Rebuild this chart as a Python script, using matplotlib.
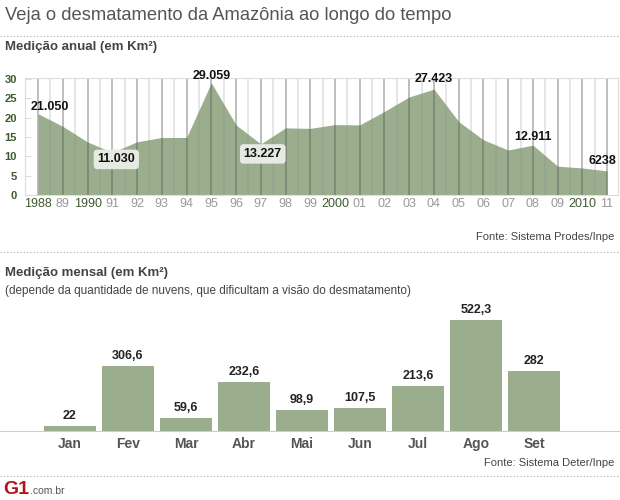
import matplotlib.pyplot as plt
from matplotlib.lines import Line2D

plt.rcParams['font.family'] = ['Liberation Sans', 'DejaVu Sans']

# annual deforestation (thousand km2)
years = list(range(1988, 2012))
annual = [21.050, 17.770, 13.730, 11.030, 13.786, 14.896, 14.896, 29.059,
          18.161, 13.227, 17.383, 17.259, 18.226, 18.165, 21.651, 25.396,
          27.423, 19.014, 14.286, 11.651, 12.911, 7.464, 7.000, 6.238]
year_labels = ['1988', '89', '1990', '91', '92', '93', '94', '95', '96', '97',
               '98', '99', '2000', '01', '02', '03', '04', '05', '06', '07',
               '08', '09', '2010', '11']
# highlighted points: year, text, above/below
annual_notes = [(1988, '21.050', 'above'), (1991, '11.030', 'below'),
                (1995, '29.059', 'above'), (1997, '13.227', 'below'),
                (2004, '27.423', 'above'), (2008, '12.911', 'above'),
                (2011, '6238', 'above')]
note_shift = {1988: (12, 1), 1991: (4, -1), 1995: (0, 1), 1997: (2, -4),
              2004: (0, 4), 2008: (0, 2), 2011: (-5, 4)}

months = ['Jan', 'Fev', 'Mar', 'Abr', 'Mai', 'Jun', 'Jul', 'Ago', 'Set']
monthly = [22, 306.6, 59.6, 232.6, 98.9, 107.5, 213.6, 522.3, 282]
monthly_labels = ['22', '306,6', '59,6', '232,6', '98,9', '107,5', '213,6',
                  '522,3', '282']

W, H = 620, 500
fill_color = '#9aae8e'
dark_green = '#3d5a2e'

fig = plt.figure(figsize=(W / 100, H / 100), dpi=100)


def fx(px):
    return px / W


def fy(py):
    return 1 - py / H


# titles and separators
fig.text(fx(5), fy(16), 'Veja o desmatamento da Amazônia ao longo do tempo',
         fontsize=13.2, color='#555555', va='center')
fig.add_artist(Line2D([0, 1], [fy(36), fy(36)], color='#aaaaaa', lw=0.8,
                      ls=(0, (1, 2))))
fig.text(fx(5), fy(47), 'Medição anual (em Km²)', fontsize=9.5,
         fontweight='bold', color='#444444', va='center')

# annual area chart
ax1 = fig.add_axes([fx(25), fy(195), fx(593), (195 - 78) / H])
ax1.fill_between(years, annual, 0, color=fill_color, lw=0, zorder=1)
ax1.set_xlim(1987.47, 2011.44)
ax1.set_ylim(0, 30.3)
for y in years:
    ax1.axvline(y, color='#555555', alpha=0.45, lw=1.2, zorder=2)
    if y < 2011:
        ax1.axvline(y + 0.5, color='#888888', alpha=0.25, lw=1.2, zorder=2)
for s in ['top', 'right', 'left', 'bottom']:
    ax1.spines[s].set_color('#dddddd')
ax1.set_yticks(range(0, 31, 5))
ax1.tick_params(axis='y', length=4, color='#dddddd', labelsize=8,
                labelcolor=dark_green, pad=6, direction='in')
for t in ax1.get_yticklabels():
    t.set_fontweight('bold')
ax1.set_xticks(years)
ax1.set_xticklabels(year_labels)
ax1.tick_params(axis='x', length=0, labelsize=9, pad=2)
for t, lab in zip(ax1.get_xticklabels(), year_labels):
    if len(lab) == 4:
        t.set_color(dark_green)
    else:
        t.set_color('#999999')

for yr, txt, pos in annual_notes:
    val = annual[years.index(yr)]
    dx, dy = note_shift[yr]
    if pos == 'above':
        ax1.annotate(txt, (yr, val), xytext=(dx, dy), textcoords='offset pixels',
                     ha='center', va='bottom', fontsize=9, fontweight='bold',
                     color='#111111', zorder=5)
    else:
        ax1.annotate(txt, (yr, val), xytext=(dx, dy), textcoords='offset pixels',
                     ha='center', va='top', fontsize=9, fontweight='bold',
                     color='#111111', zorder=5,
                     bbox=dict(boxstyle='round,pad=0.3', fc='#e6eae2',
                               ec='none'))

fig.text(fx(614), fy(237), 'Fonte: Sistema Prodes/Inpe', fontsize=8,
         color='#444444', ha='right', va='center')
fig.add_artist(Line2D([0, 1], [fy(252), fy(252)], color='#aaaaaa', lw=0.8,
                      ls=(0, (1, 2))))

# monthly bars
fig.text(fx(5), fy(273), 'Medição mensal (em Km²)', fontsize=9.5,
         fontweight='bold', color='#444444', va='center')
fig.text(fx(5), fy(291),
         '(depende da quantidade de nuvens, que dificultam a visão do desmatamento)',
         fontsize=8.5, color='#444444', va='center')

ax2 = fig.add_axes([0, fy(431), 1, 131 / H])
x = list(range(len(months)))
ax2.bar(x, monthly, width=0.897, color=fill_color, zorder=2)
ax2.set_xlim(-70 / 58, 550 / 58)
ax2.set_ylim(0, 616)
for s in ['top', 'right', 'left']:
    ax2.spines[s].set_visible(False)
ax2.spines['bottom'].set_color('#cccccc')
ax2.set_yticks([])
ax2.set_xticks(x)
ax2.set_xticklabels(months)
ax2.tick_params(axis='x', length=0, labelsize=10, labelcolor='#555555', pad=4)
for t in ax2.get_xticklabels():
    t.set_fontweight('bold')
for xi, v, lab in zip(x, monthly, monthly_labels):
    ax2.annotate(lab, (xi, v), xytext=(0, 4), textcoords='offset pixels',
                 ha='center', va='bottom', fontsize=9, fontweight='bold',
                 color='#222222')

fig.text(fx(614), fy(463), 'Fonte: Sistema Deter/Inpe', fontsize=8,
         color='#444444', ha='right', va='center')
fig.add_artist(Line2D([0, 1], [fy(476), fy(476)], color='#aaaaaa', lw=0.8,
                      ls=(0, (1, 2))))

# logo
fig.text(fx(3), fy(489), 'G1', fontsize=14, fontweight='heavy',
         color='#b5121b', va='center')
fig.text(fx(30), fy(491), '.com.br', fontsize=7.5, color='#555555',
         va='center')

fig.savefig('out.png', dpi=100)
